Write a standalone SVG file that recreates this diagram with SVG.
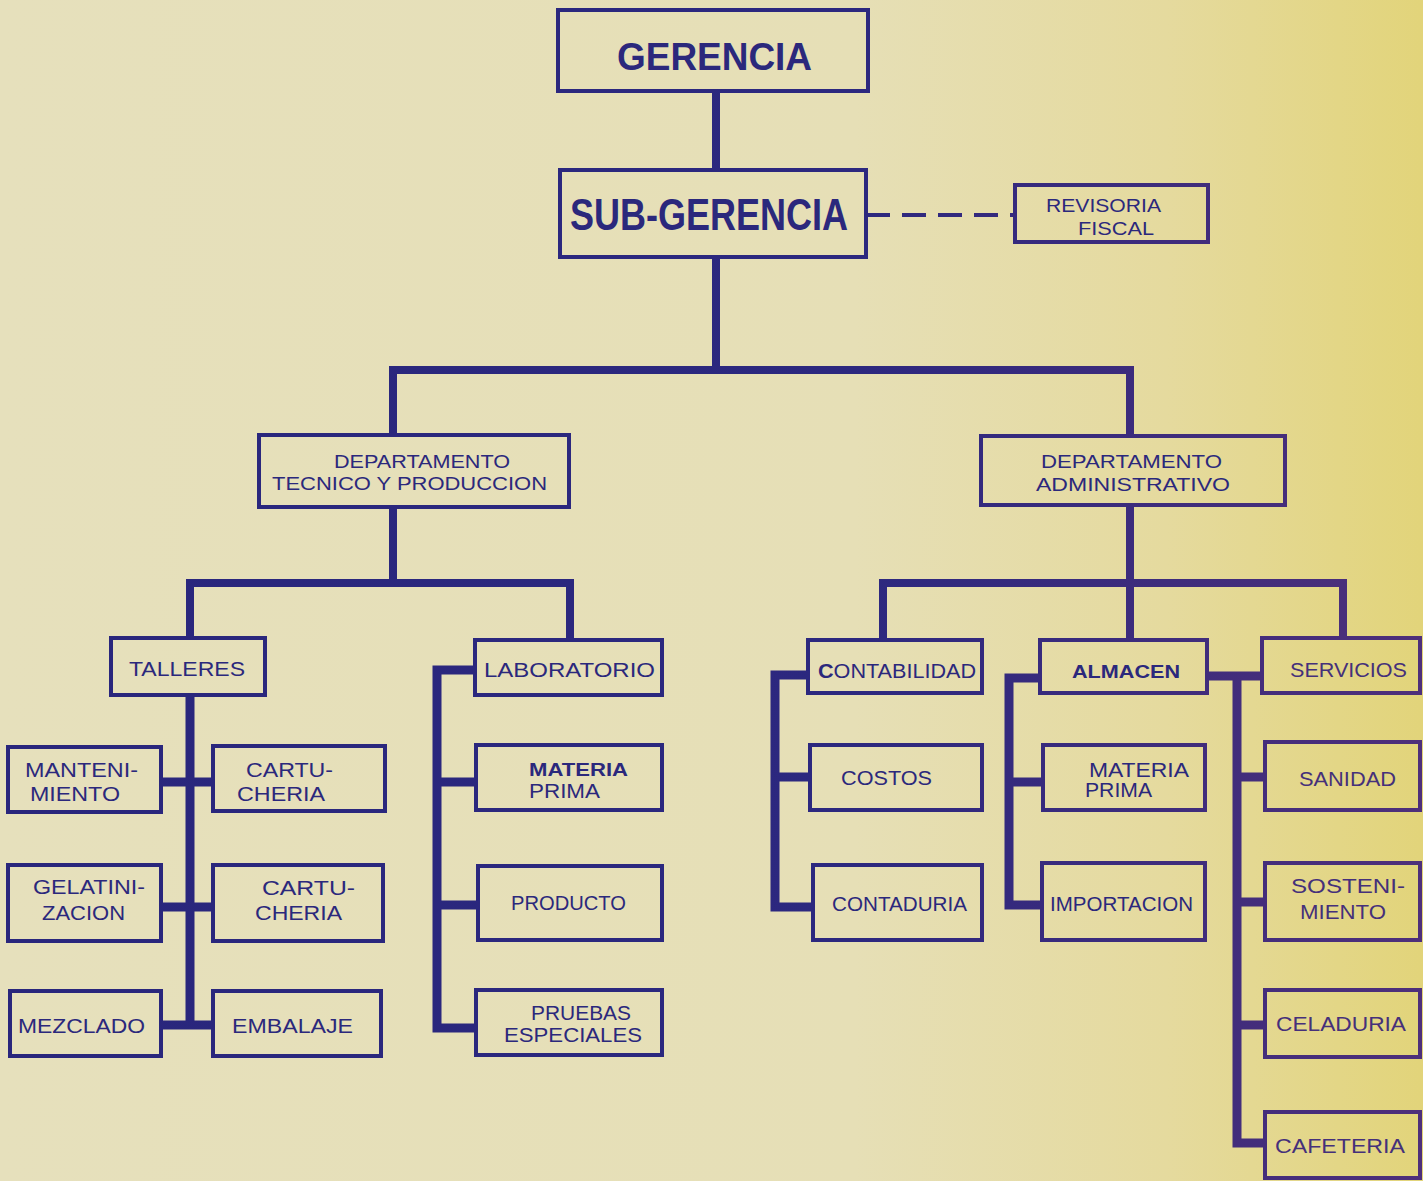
<svg xmlns="http://www.w3.org/2000/svg" width="1423" height="1181" viewBox="0 0 1423 1181">
<defs>
<linearGradient id="paper" x1="0" y1="0" x2="1" y2="0">
<stop offset="0" stop-color="#e6e0bc"/>
<stop offset="0.6" stop-color="#e6dfb6"/>
<stop offset="0.82" stop-color="#e5da9e"/>
<stop offset="1" stop-color="#e2d47a"/>
</linearGradient>
<linearGradient id="ink" gradientUnits="userSpaceOnUse" x1="0" y1="0" x2="1423" y2="0">
<stop offset="0" stop-color="#29267c"/>
<stop offset="0.6" stop-color="#2c287f"/>
<stop offset="0.82" stop-color="#3e2c7c"/>
<stop offset="1" stop-color="#4e2f7a"/>
</linearGradient>
<style>
.box{fill:none;stroke:url(#ink);stroke-width:4;stroke-linejoin:miter}
.ln{fill:none;stroke:url(#ink);stroke-width:8;stroke-linejoin:miter;stroke-linecap:butt}
.sp{fill:none;stroke:url(#ink);stroke-width:9;stroke-linejoin:miter;stroke-linecap:butt}
.dash{fill:none;stroke:url(#ink);stroke-width:4;stroke-dasharray:24 12}
text{font-family:"Liberation Sans","Arial",sans-serif;fill:#2b287c}
.b{font-weight:bold}
.pu{fill:#45307a}
</style>
</defs>
<rect x="0" y="0" width="1423" height="1181" fill="url(#paper)"/>

<g id="connectors">
<line class="ln" x1="716" y1="91" x2="716" y2="170"/>
<line class="ln" x1="716" y1="257" x2="716" y2="372"/>
<path class="dash" d="M866,215 H1015"/>
<path class="ln" d="M393,435 V370 H1130 V436"/>
<line class="ln" x1="393" y1="507" x2="393" y2="583"/>
<path class="ln" d="M190,638 V583 H570 V640"/>
<line class="ln" x1="1130" y1="505" x2="1130" y2="640"/>
<path class="ln" d="M883,640 V583 H1343 V638"/>
<line class="sp" x1="190" y1="695" x2="190" y2="1025"/>
<line class="sp" x1="161" y1="782" x2="213" y2="782"/>
<line class="sp" x1="161" y1="907" x2="213" y2="907"/>
<line class="sp" x1="161" y1="1025" x2="213" y2="1025"/>
<path class="sp" d="M475,670 H437 V1028 H476"/>
<line class="sp" x1="437" y1="782" x2="476" y2="782"/>
<line class="sp" x1="437" y1="905" x2="478" y2="905"/>
<path class="sp" d="M808,675 H775 V907 H813"/>
<line class="sp" x1="775" y1="777" x2="810" y2="777"/>
<path class="sp" d="M1040,678 H1009 V905 H1042"/>
<line class="sp" x1="1009" y1="782" x2="1043" y2="782"/>
<line class="sp" x1="1207" y1="676" x2="1262" y2="676"/>
<path class="sp" d="M1237,676 V1143 H1265"/>
<line class="sp" x1="1237" y1="777" x2="1265" y2="777"/>
<line class="sp" x1="1237" y1="902" x2="1265" y2="902"/>
<line class="sp" x1="1237" y1="1025" x2="1265" y2="1025"/>
</g>

<g id="gerencia"><rect class="box" x="558" y="10" width="310" height="81"/>
<text class="b" x="617" y="70" font-size="38" textLength="195" lengthAdjust="spacingAndGlyphs">GERENCIA</text></g>

<g id="subgerencia"><rect class="box" x="560" y="170" width="306" height="87"/>
<text class="b" x="570" y="230" font-size="45" textLength="278" lengthAdjust="spacingAndGlyphs">SUB-GERENCIA</text></g>

<g id="revisoria"><rect class="box" x="1015" y="185" width="193" height="57"/>
<text x="1046" y="212" font-size="19" textLength="115" lengthAdjust="spacingAndGlyphs">REVISORIA</text>
<text x="1078" y="235" font-size="19" textLength="76" lengthAdjust="spacingAndGlyphs">FISCAL</text></g>

<g id="dep-tecnico"><rect class="box" x="259" y="435" width="310" height="72"/>
<text x="334" y="468" font-size="19" textLength="176" lengthAdjust="spacingAndGlyphs">DEPARTAMENTO</text>
<text x="272" y="490" font-size="19" textLength="275" lengthAdjust="spacingAndGlyphs">TECNICO Y PRODUCCION</text></g>

<g id="dep-admin"><rect class="box" x="981" y="436" width="304" height="69"/>
<text x="1041" y="468" font-size="19" textLength="181" lengthAdjust="spacingAndGlyphs">DEPARTAMENTO</text>
<text x="1036" y="491" font-size="19" textLength="194" lengthAdjust="spacingAndGlyphs">ADMINISTRATIVO</text></g>

<g id="talleres"><rect class="box" x="111" y="638" width="154" height="57"/>
<text x="129" y="676" font-size="20" textLength="116" lengthAdjust="spacingAndGlyphs">TALLERES</text></g>

<g id="mantenimiento"><rect class="box" x="8" y="747" width="153" height="65"/>
<text x="25" y="777" font-size="20" textLength="113" lengthAdjust="spacingAndGlyphs">MANTENI-</text>
<text x="30" y="801" font-size="20" textLength="90" lengthAdjust="spacingAndGlyphs">MIENTO</text></g>

<g id="cartucheria1"><rect class="box" x="213" y="746" width="172" height="65"/>
<text x="246" y="777" font-size="20" textLength="87" lengthAdjust="spacingAndGlyphs">CARTU-</text>
<text x="237" y="801" font-size="20" textLength="88" lengthAdjust="spacingAndGlyphs">CHERIA</text></g>

<g id="gelatinizacion"><rect class="box" x="8" y="865" width="153" height="76"/>
<text x="33" y="894" font-size="20" textLength="112" lengthAdjust="spacingAndGlyphs">GELATINI-</text>
<text x="42" y="920" font-size="20" textLength="83" lengthAdjust="spacingAndGlyphs">ZACION</text></g>

<g id="cartucheria2"><rect class="box" x="213" y="865" width="170" height="76"/>
<text x="262" y="895" font-size="20" textLength="93" lengthAdjust="spacingAndGlyphs">CARTU-</text>
<text x="255" y="920" font-size="20" textLength="87" lengthAdjust="spacingAndGlyphs">CHERIA</text></g>

<g id="mezclado"><rect class="box" x="10" y="991" width="151" height="65"/>
<text x="18" y="1033" font-size="20" textLength="127" lengthAdjust="spacingAndGlyphs">MEZCLADO</text></g>

<g id="embalaje"><rect class="box" x="213" y="991" width="168" height="65"/>
<text x="232" y="1033" font-size="20" textLength="121" lengthAdjust="spacingAndGlyphs">EMBALAJE</text></g>

<g id="laboratorio"><rect class="box" x="475" y="640" width="187" height="55"/>
<text x="484" y="677" font-size="20" textLength="171" lengthAdjust="spacingAndGlyphs">LABORATORIO</text></g>

<g id="materia-prima-lab"><rect class="box" x="476" y="745" width="186" height="65"/>
<text class="b" x="529" y="776" font-size="19" textLength="99" lengthAdjust="spacingAndGlyphs">MATERIA</text>
<text x="529" y="798" font-size="20" textLength="71" lengthAdjust="spacingAndGlyphs">PRIMA</text></g>

<g id="producto"><rect class="box" x="478" y="866" width="184" height="74"/>
<text x="511" y="910" font-size="20" textLength="115" lengthAdjust="spacingAndGlyphs">PRODUCTO</text></g>

<g id="pruebas"><rect class="box" x="476" y="990" width="186" height="65"/>
<text x="531" y="1020" font-size="20" textLength="100" lengthAdjust="spacingAndGlyphs">PRUEBAS</text>
<text x="504" y="1042" font-size="20" textLength="138" lengthAdjust="spacingAndGlyphs">ESPECIALES</text></g>

<g id="contabilidad"><rect class="box" x="808" y="640" width="174" height="53"/>
<text x="818" y="678" font-size="20" textLength="158" lengthAdjust="spacingAndGlyphs"><tspan font-weight="bold">C</tspan>ONTABILIDAD</text></g>

<g id="costos"><rect class="box" x="810" y="745" width="172" height="65"/>
<text x="841" y="785" font-size="20" textLength="91" lengthAdjust="spacingAndGlyphs">COSTOS</text></g>

<g id="contaduria"><rect class="box" x="813" y="865" width="169" height="75"/>
<text x="832" y="911" font-size="20" textLength="135" lengthAdjust="spacingAndGlyphs">CONTADURIA</text></g>

<g id="almacen"><rect class="box" x="1040" y="640" width="167" height="53"/>
<text class="b" x="1072" y="678" font-size="19" textLength="108" lengthAdjust="spacingAndGlyphs">ALMACEN</text></g>

<g id="materia-prima-alm"><rect class="box" x="1043" y="745" width="162" height="65"/>
<text x="1089" y="777" font-size="20" textLength="100" lengthAdjust="spacingAndGlyphs">MATERIA</text>
<text x="1085" y="797" font-size="20" textLength="67" lengthAdjust="spacingAndGlyphs">PRIMA</text></g>

<g id="importacion"><rect class="box" x="1042" y="863" width="163" height="77"/>
<text x="1050" y="911" font-size="20" textLength="143" lengthAdjust="spacingAndGlyphs">IMPORTACION</text></g>

<g id="servicios"><rect class="box" x="1262" y="638" width="158" height="55"/>
<text class="pu" x="1290" y="677" font-size="20" textLength="117" lengthAdjust="spacingAndGlyphs">SERVICIOS</text></g>

<g id="sanidad"><rect class="box" x="1265" y="742" width="155" height="68"/>
<text class="pu" x="1299" y="786" font-size="20" textLength="97" lengthAdjust="spacingAndGlyphs">SANIDAD</text></g>

<g id="sostenimiento"><rect class="box" x="1265" y="863" width="155" height="77"/>
<text class="pu" x="1291" y="893" font-size="20" textLength="114" lengthAdjust="spacingAndGlyphs">SOSTENI-</text>
<text class="pu" x="1300" y="919" font-size="20" textLength="86" lengthAdjust="spacingAndGlyphs">MIENTO</text></g>

<g id="celaduria"><rect class="box" x="1265" y="990" width="155" height="67"/>
<text class="pu" x="1276" y="1031" font-size="20" textLength="130" lengthAdjust="spacingAndGlyphs">CELADURIA</text></g>

<g id="cafeteria"><rect class="box" x="1265" y="1112" width="155" height="66"/>
<text class="pu" x="1275" y="1153" font-size="20" textLength="130" lengthAdjust="spacingAndGlyphs">CAFETERIA</text></g>
</svg>
